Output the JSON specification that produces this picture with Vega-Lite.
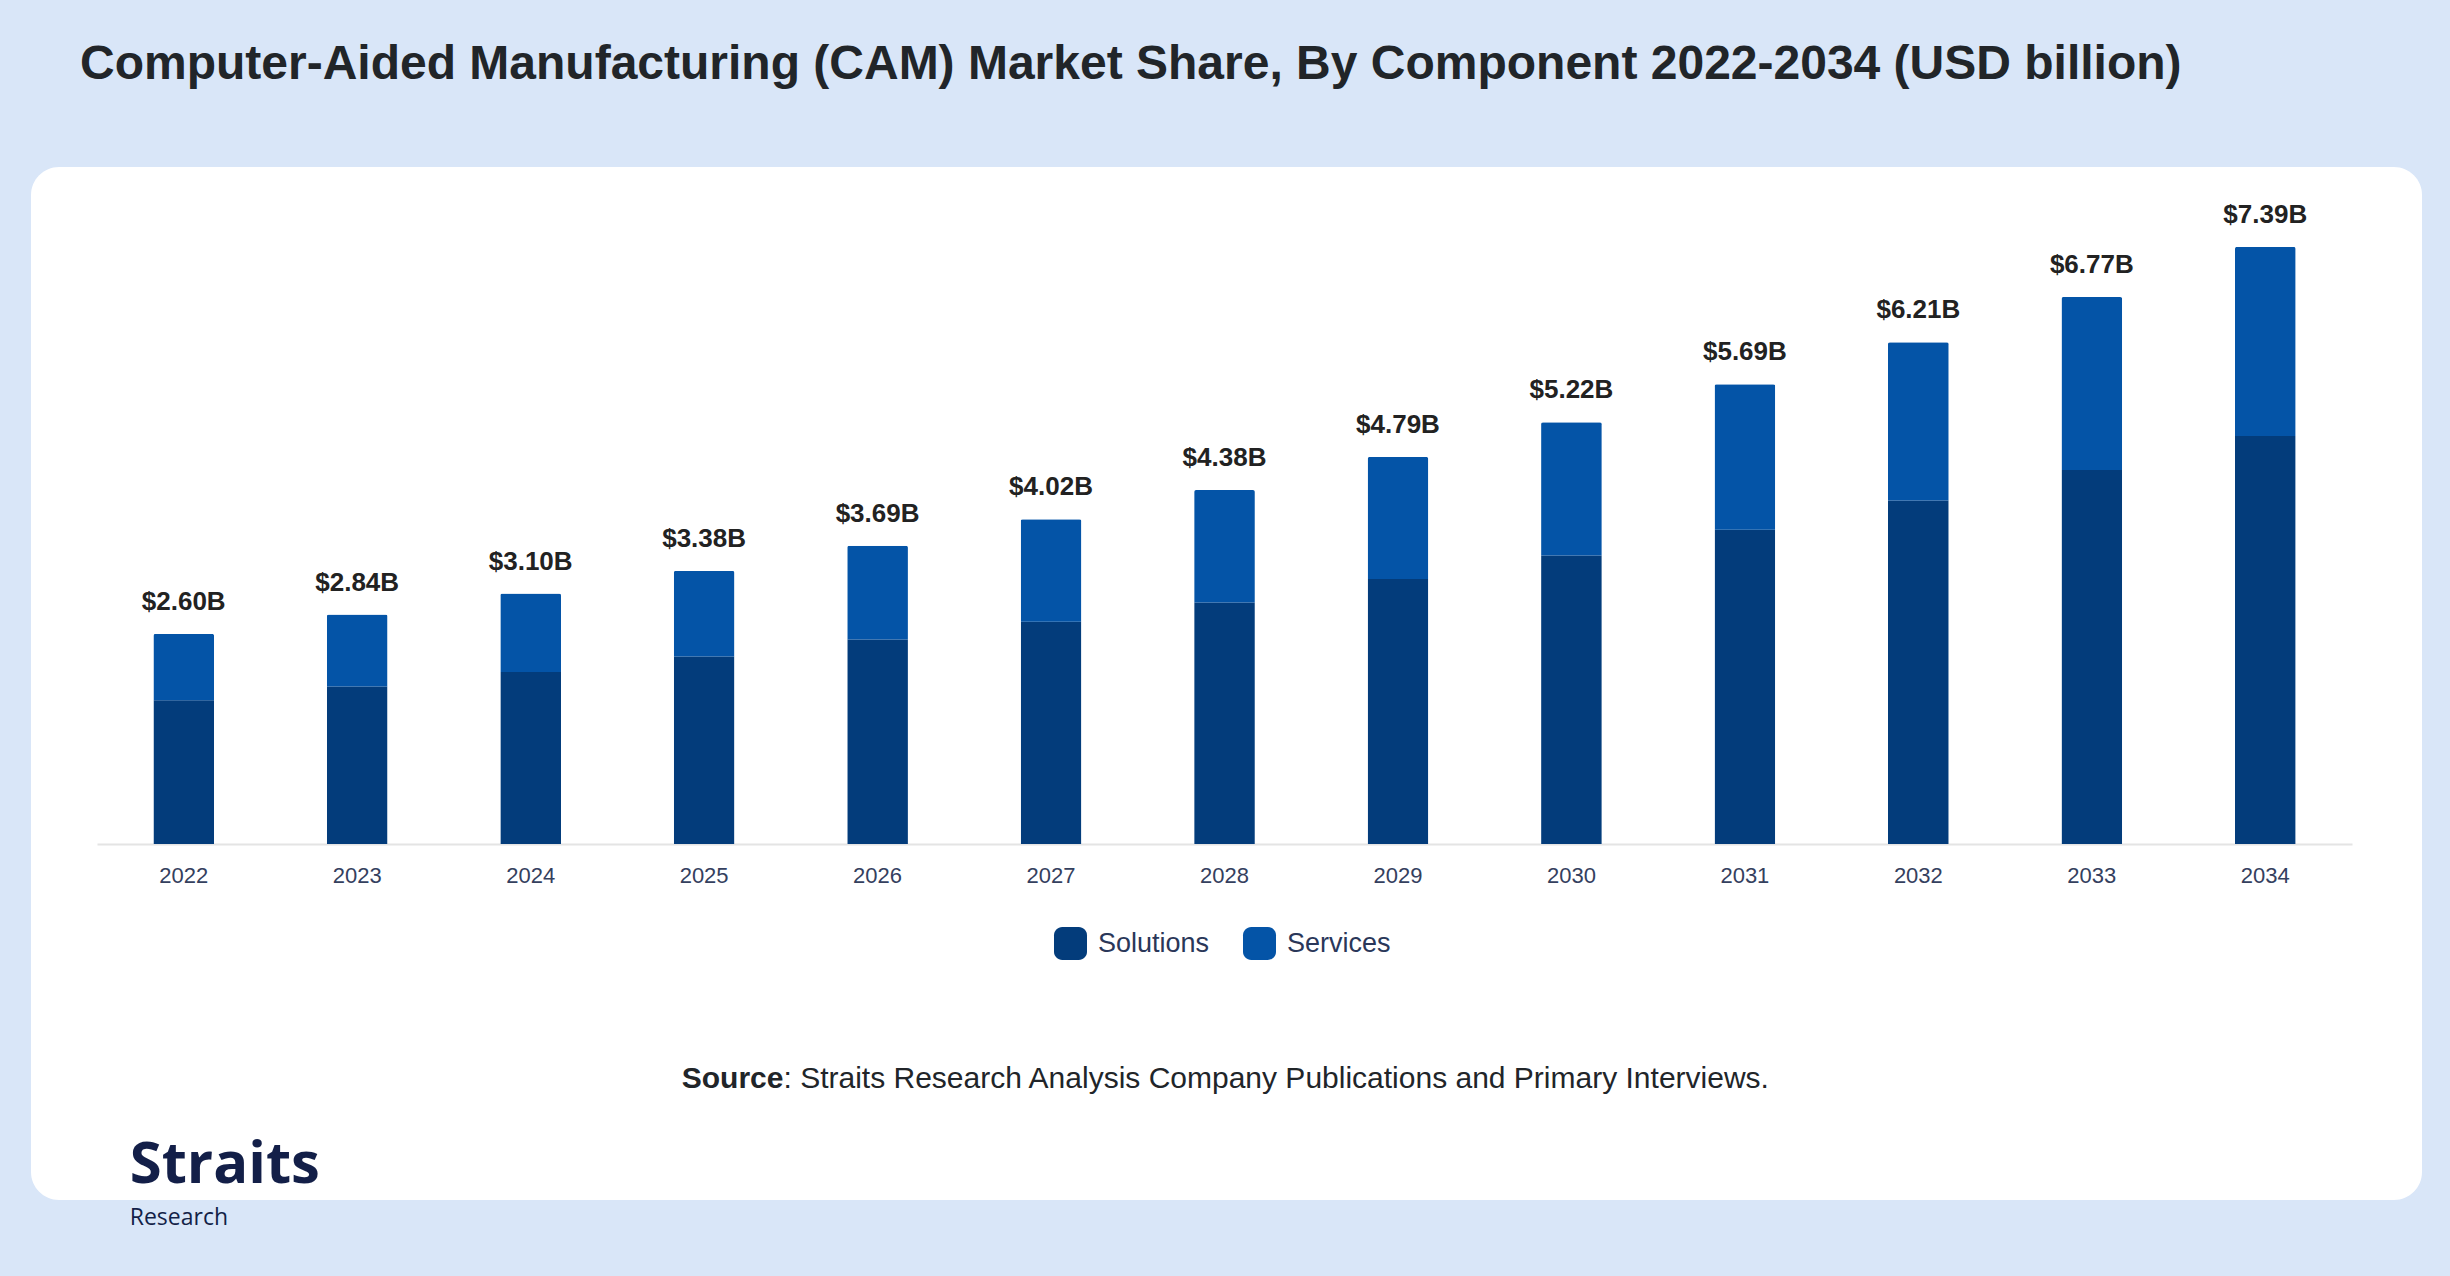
{
  "$schema": "https://vega.github.io/schema/vega-lite/v6.json",
  "description": "CAM market share by component 2022-2034, stacked bars with totals",
  "width": 2391,
  "height": 1033,
  "autosize": {"type": "none"},
  "padding": {"left": 31, "top": 167, "right": 28, "bottom": 76},
  "background": "#d9e6f8",
  "title": {
    "text": "Computer-Aided Manufacturing (CAM) Market Share, By Component 2022-2034 (USD billion)",
    "anchor": "start",
    "frame": "group",
    "dx": 49,
    "offset": 40,
    "baseline": "alphabetic",
    "font": "Liberation Sans",
    "fontSize": 48,
    "fontWeight": "bold",
    "color": "#212529"
  },
  "config": {
    "font": "Liberation Sans",
    "view": {"fill": "white", "stroke": null, "cornerRadius": 28}
  },
  "data": {
    "values": [
      {"year": "2022", "component": "Solutions", "value": 1.78},
      {"year": "2022", "component": "Services", "value": 0.82},
      {"year": "2023", "component": "Solutions", "value": 1.95},
      {"year": "2023", "component": "Services", "value": 0.89},
      {"year": "2024", "component": "Solutions", "value": 2.13},
      {"year": "2024", "component": "Services", "value": 0.97},
      {"year": "2025", "component": "Solutions", "value": 2.32},
      {"year": "2025", "component": "Services", "value": 1.06},
      {"year": "2026", "component": "Solutions", "value": 2.53},
      {"year": "2026", "component": "Services", "value": 1.16},
      {"year": "2027", "component": "Solutions", "value": 2.75},
      {"year": "2027", "component": "Services", "value": 1.27},
      {"year": "2028", "component": "Solutions", "value": 2.99},
      {"year": "2028", "component": "Services", "value": 1.39},
      {"year": "2029", "component": "Solutions", "value": 3.28},
      {"year": "2029", "component": "Services", "value": 1.51},
      {"year": "2030", "component": "Solutions", "value": 3.57},
      {"year": "2030", "component": "Services", "value": 1.65},
      {"year": "2031", "component": "Solutions", "value": 3.89},
      {"year": "2031", "component": "Services", "value": 1.80},
      {"year": "2032", "component": "Solutions", "value": 4.25},
      {"year": "2032", "component": "Services", "value": 1.96},
      {"year": "2033", "component": "Solutions", "value": 4.63},
      {"year": "2033", "component": "Services", "value": 2.14},
      {"year": "2034", "component": "Solutions", "value": 5.05},
      {"year": "2034", "component": "Services", "value": 2.34}
    ]
  },
  "layer": [
    {
      "mark": {"type": "bar", "cornerRadiusTopLeft": 2, "cornerRadiusTopRight": 2},
      "encoding": {
        "x": {
          "field": "year",
          "type": "ordinal",
          "scale": {"range": [66, 2321], "paddingInner": 0.65, "paddingOuter": 0.325},
          "axis": {
            "title": null,
            "labelAngle": 0,
            "labelFont": "Liberation Sans",
            "labelFontSize": 22,
            "labelColor": "#34405e",
            "labelPadding": 21,
            "ticks": false,
            "tickSize": 0,
            "grid": false,
            "domainColor": "#e4e4e4",
            "domainWidth": 2,
            "offset": -356
          }
        },
        "y": {
          "field": "value",
          "type": "quantitative",
          "stack": "zero",
          "scale": {"domain": [0, 8.379], "range": [677, 0], "nice": false},
          "axis": null
        },
        "color": {
          "field": "component",
          "type": "nominal",
          "sort": ["Solutions", "Services"],
          "scale": {"domain": ["Solutions", "Services"], "range": ["#033c7b", "#0454a7"]},
          "legend": {
            "orient": "none",
            "legendX": 1023,
            "legendY": 760,
            "direction": "horizontal",
            "title": null,
            "padding": 0,
            "symbolType": "M-0.5,-1H0.5A0.5,0.5,0,0,1,1,-0.5V0.5A0.5,0.5,0,0,1,0.5,1H-0.5A0.5,0.5,0,0,1,-1,0.5V-0.5A0.5,0.5,0,0,1,-0.5,-1Z",
            "symbolSize": 1089,
            "symbolStrokeWidth": 0,
            "symbolOpacity": 1,
            "labelFont": "Liberation Sans",
            "labelFontSize": 27,
            "labelColor": "#2a3759",
            "labelOffset": 11,
            "columnPadding": 33
          }
        },
        "order": {"field": "component", "sort": "descending"}
      }
    },
    {
      "transform": [
        {"aggregate": [{"op": "sum", "field": "value", "as": "total"}], "groupby": ["year"]}
      ],
      "mark": {
        "type": "text",
        "baseline": "alphabetic",
        "dy": -24,
        "font": "Liberation Sans",
        "fontSize": 26,
        "fontWeight": "bold",
        "color": "#222222",
        "text": {"expr": "'$' + format(datum.total, '.2f') + 'B'"}
      },
      "encoding": {
        "x": {"field": "year", "type": "ordinal"},
        "y": {"field": "total", "type": "quantitative"}
      }
    },
    {
      "data": {"values": [{}]},
      "mark": {
        "type": "text",
        "text": "Source",
        "align": "right",
        "baseline": "alphabetic",
        "dx": -441,
        "font": "Liberation Sans",
        "fontSize": 30,
        "fontWeight": "bold",
        "color": "#212529"
      },
      "encoding": {
        "x": {"datum": "2028", "type": "ordinal"},
        "y": {"datum": -3.02, "type": "quantitative"}
      }
    },
    {
      "data": {"values": [{}]},
      "mark": {
        "type": "text",
        "text": ": Straits Research Analysis Company Publications and Primary Interviews.",
        "align": "left",
        "baseline": "alphabetic",
        "dx": -441,
        "font": "Liberation Sans",
        "fontSize": 30,
        "color": "#212529"
      },
      "encoding": {
        "x": {"datum": "2028", "type": "ordinal"},
        "y": {"datum": -3.02, "type": "quantitative"}
      }
    },
    {
      "data": {"values": [{}]},
      "mark": {
        "type": "text",
        "text": "Straits",
        "align": "left",
        "baseline": "alphabetic",
        "dx": -54,
        "font": "Open Sans",
        "fontSize": 58,
        "fontWeight": "bold",
        "color": "#131f48"
      },
      "encoding": {
        "x": {"datum": "2022", "type": "ordinal"},
        "y": {"datum": -4.196, "type": "quantitative"}
      }
    },
    {
      "data": {"values": [{}]},
      "mark": {
        "type": "text",
        "text": "Research",
        "align": "left",
        "baseline": "alphabetic",
        "dx": -54,
        "font": "Open Sans",
        "fontSize": 23,
        "color": "#131f48"
      },
      "encoding": {
        "x": {"datum": "2022", "type": "ordinal"},
        "y": {"datum": -4.715, "type": "quantitative"}
      }
    }
  ]
}
